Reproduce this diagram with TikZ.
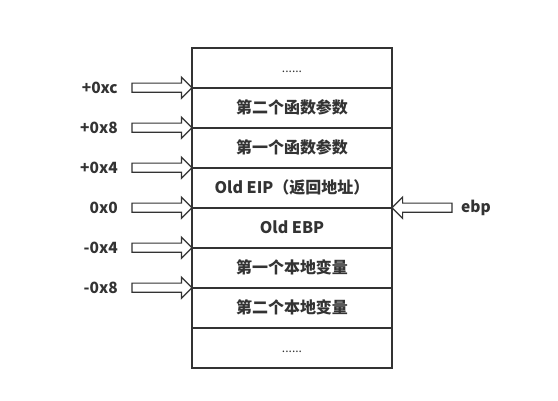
\documentclass[tikz,border=0pt]{standalone}
\usepackage{fontspec}
\setmainfont{Noto Sans CJK SC}
\usetikzlibrary{shapes.arrows}
\definecolor{ink}{HTML}{333333}
\tikzset{
  cell/.style={draw=ink, line width=1.6pt, minimum width=200pt, minimum height=40pt, inner sep=0pt, outer sep=0pt,
    font=\fontsize{16}{19}\selectfont\bfseries, text=ink},
  blockarrow/.style={single arrow, draw=ink, fill=white, line width=1.2pt, minimum height=60pt,
    inner sep=4pt, single arrow head extend=6pt, single arrow tip angle=90, outer sep=0pt},
  lab/.style={font=\fontsize{15.5}{18}\selectfont\bfseries, text=ink, inner sep=0pt},
  dots/.style={font=\fontsize{12}{14}\selectfont, text=ink}
}
\begin{document}
\begin{tikzpicture}[x=1pt,y=-1pt]
\useasboundingbox (0,0) rectangle (558,400);
\node[cell] (r1) at (292,67.7) {};
\node[dots] (d1) at (292,72) {......};
\node[cell] (r2) at (292,107.7) {第二个函数参数};
\node[cell] (r3) at (292,147.7) {第一个函数参数};
\node[cell] (r4) at (292,187.7) {Old EIP（返回地址）};
\node[cell] (r5) at (292,227.7) {Old EBP};
\node[cell] (r6) at (292,267.7) {第一个本地变量};
\node[cell] (r7) at (292,307.7) {第二个本地变量};
\node[cell] (r8) at (292,347.7) {};
\node[dots] (d8) at (292,352) {......};
% left arrows
\foreach \n/\t [count=\i] in {1/+0xc,2/+0x8,3/+0x4,4/0x0,5/-0x4,6/-0x8}{
  \node[blockarrow, anchor=tip] (a\i) at (r\n.south west) {};
  \node[lab, anchor=east] (t\i) at ([xshift=-14pt]a\i.tail) {\t};
}
% right arrow
\node[blockarrow, shape border rotate=180, anchor=tip] (ae) at (r4.south east) {};
\node[lab, anchor=west] (te) at ([xshift=9pt]ae.tail) {ebp};
\end{tikzpicture}
\end{document}
